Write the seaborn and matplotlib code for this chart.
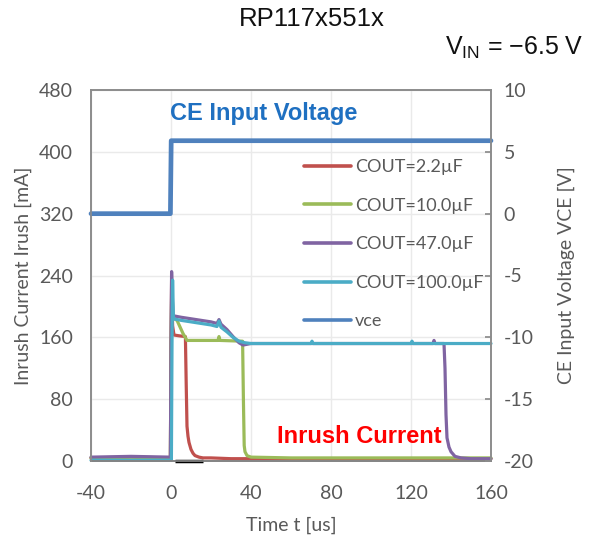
import matplotlib
matplotlib.use("Agg")
import matplotlib.pyplot as plt
import seaborn as sns
import pandas as pd

# ---- data -------------------------------------------------------------
# inrush current [mA] vs time [us] for each output capacitor
t_c22 = [-40, -30, -20, -10, -0.3, 0.0, 0.3, 0.8, 1.5, 4.0, 7.2, 7.6, 8.0, 8.5, 9.0, 10, 11, 12, 14, 16, 20, 30, 40, 80, 160]
i_c22 = [4, 4, 5, 4, 4, 150, 234, 175, 163, 162, 161, 100, 45, 32, 24, 15, 10, 7, 5, 4, 4, 3, 3, 3, 3]

t_c10 = [-40, -20, -0.3, 0.0, 0.4, 1.0, 3.0, 6.0, 8.0, 20, 23.5, 24.0, 24.5, 35.8, 36.2, 36.6, 37, 38, 40, 60, 100, 160]
i_c10 = [4, 5, 4, 150, 230, 185, 182, 165, 156, 156, 156, 161, 156, 155, 80, 20, 12, 7, 5, 4, 4, 4]

t_c47 = [-40, -20, -0.3, 0.0, 0.3, 1.0, 5, 10, 15, 20, 23, 24, 25, 28, 31, 34, 36, 40, 60, 100, 131, 131.5, 132, 136.5, 137.0, 137.5, 138, 139, 140, 142, 145, 150, 160]
i_c47 = [5, 6, 5, 150, 245, 188, 186, 184, 182, 180, 178, 183, 177, 170, 161, 153, 150, 152, 152, 152, 152, 156, 152, 152, 120, 60, 30, 18, 12, 6, 4, 3, 3]

t_c100 = [-40, -20, 0.2, 0.5, 0.8, 1.2, 5, 10, 15, 20, 23, 24, 25, 28, 31, 34, 37, 40, 70, 70.5, 71, 100, 120, 120.5, 121, 160]
i_c100 = [1, 1, 1, 150, 234, 184, 182, 180, 178, 176, 174, 181, 173, 167, 160, 155, 153, 152, 152, 155, 152, 152, 152, 155, 152, 152]

# CE input voltage [V]
t_vce = [-40, -0.3, 0.1, 20, 160]
v_vce = [0.0, 0.0, 5.9, 5.9, 5.9]

# zero-current baseline segment
t_base = [2, 16]
i_base = [0, 0]

series = [
    ("COUT=2.2\u00b5F", t_c22, i_c22, "#C0504D"),
    ("COUT=10.0\u00b5F", t_c10, i_c10, "#9BBB59"),
    ("COUT=47.0\u00b5F", t_c47, i_c47, "#8064A2"),
    ("COUT=100.0\u00b5F", t_c100, i_c100, "#4BACC6"),
]

x_ticks = [-40, 0, 40, 80, 120, 160]
y_ticks = [0, 80, 160, 240, 320, 400, 480]
y2_ticks = [-20, -15, -10, -5, 0, 5, 10]

# ---- style ------------------------------------------------------------
sns.set_theme(style="white")
plt.rcParams["font.family"] = ["Lato", "DejaVu Sans"]
plt.rcParams["axes.unicode_minus"] = False
plt.rcParams["mathtext.fontset"] = "custom"
plt.rcParams["mathtext.rm"] = "Liberation Sans"

txt_grey = "#595959"
spine_grey = "#8C8C8C"
grid_grey = "#EAEAEA"

fig = plt.figure(figsize=(5.95, 5.40), dpi=100)
ax = fig.add_axes([91 / 595, 1 - 461 / 540, 400 / 595, 371 / 540])
ax2 = ax.twinx()

lw = 2.3
ax.plot(t_base, i_base, color="black", lw=2.5, solid_capstyle="butt", zorder=3, clip_on=False)
for name, t, i, c in series:
    df = pd.DataFrame({"t": t, "i": i})
    sns.lineplot(data=df, x="t", y="i", ax=ax, color=c, lw=lw, estimator=None,
                 sort=False, label=name, legend=False, clip_on=False)

dfv = pd.DataFrame({"t": t_vce, "v": v_vce})
sns.lineplot(data=dfv, x="t", y="v", ax=ax2, color="#4F81BD", lw=3.4, estimator=None,
             sort=False, legend=False, clip_on=False)

ax.set_xlim(-40, 160)
ax.set_ylim(0, 480)
ax2.set_ylim(-20, 10)
ax.set_xticks(x_ticks)
ax.set_yticks(y_ticks)
ax2.set_yticks(y2_ticks)

ax.grid(True, color=grid_grey, lw=1)
ax.set_axisbelow(True)

for a in (ax, ax2):
    for s in a.spines.values():
        s.set_color(spine_grey)
        s.set_linewidth(1.2)
ax.spines["bottom"].set_color("#505050")

ax.tick_params(axis="y", length=0, labelsize=14, labelcolor=txt_grey, pad=13)
ax.tick_params(axis="x", length=0, labelsize=14, labelcolor=txt_grey, pad=17)
ax2.tick_params(axis="y", direction="in", length=4, color=spine_grey,
                labelsize=14, labelcolor=txt_grey, pad=9)
for lab in ax2.get_yticklabels():
    lab.set_horizontalalignment("left")

ax.set_xlabel("Time t [us]", fontsize=14, color=txt_grey)
ax.xaxis.set_label_coords(0.5, -0.15)
ax.set_ylabel("Inrush Current Irush [mA]", fontsize=14, color=txt_grey)
ax.yaxis.set_label_coords(-0.147, 0.5)
ax2.set_ylabel("CE Input Voltage VCE [V]", fontsize=14, color=txt_grey)
ax2.yaxis.set_label_coords(1.167, 0.5)

# legend includes the vce line
line_handles = [l for l in ax.get_lines() if not l.get_label().startswith("_")]
line_handles.append(ax2.get_lines()[0])
labels = [s[0] for s in series] + ["vce"]
leg = ax.legend(line_handles, labels, loc="upper left", bbox_to_anchor=(0.515, 0.833),
                frameon=False, fontsize=13, handlelength=2.6, handletextpad=0.2,
                labelspacing=1.25, borderaxespad=0)
for txt in leg.get_texts():
    txt.set_color(txt_grey)
for lh in leg.get_lines():
    lh.set_linewidth(2.6)

# annotations
ax.text(-0.5, 449, "CE Input Voltage", fontsize=17, fontweight="bold", color="#1F70C1",
        family="Liberation Sans", va="center", ha="left")
ax.text(53, 32, "Inrush Current", fontsize=17, fontweight="bold", color="#FF0000",
        family="Liberation Sans", va="center", ha="left")

fig.text(312 / 595, 1 - 19 / 540, "RP117x551x", fontsize=18.5, color="#111111",
         family="Liberation Sans", ha="center", va="center")
fig.text(583 / 595, 1 - 48 / 540, "V$_{\\mathrm{IN}}$ = \u22126.5 V",
         fontsize=18, color="#111111", family="Liberation Sans", ha="right", va="center")

fig.savefig("out.png", dpi=100)
